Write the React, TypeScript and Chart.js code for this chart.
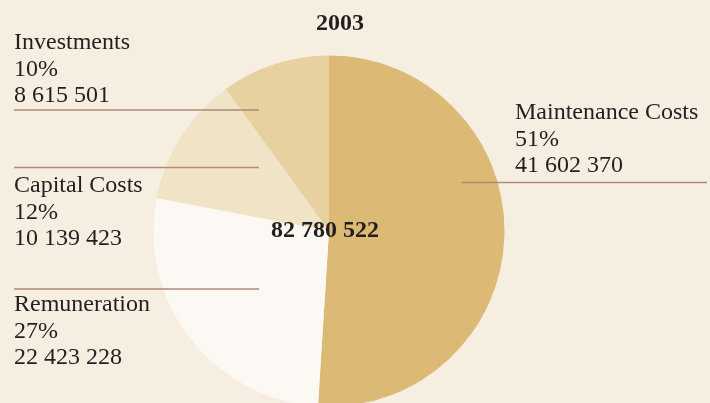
import React, { useEffect, useRef } from "react";
import { Chart, registerables } from "chart.js";

Chart.register(...registerables);

const title = "2003";
const totalLabel = "82 780 522";
const categories = ["Maintenance Costs", "Remuneration", "Capital Costs", "Investments"];
const percents = [51, 27, 12, 10];
const amounts = ["41 602 370", "22 423 228", "10 139 423", "8 615 501"];
const colors = ["#dcb974", "#fcf9f4", "#f1e3c6", "#e8d1a0"];

// label layout: text x, first baseline y, leader line y, line x from, line x to
const labelLayout = [
  { x: 515, y: 119, ly: 182.5, lx1: 462, lx2: 707 },
  { x: 14, y: 311, ly: 289, lx1: 14, lx2: 259 },
  { x: 14, y: 192, ly: 167.5, lx1: 14, lx2: 259 },
  { x: 14, y: 49, ly: 110, lx1: 14, lx2: 259 },
];

const BG = "#f6eee0";
const FONT = "'Liberation Serif', 'Times New Roman', serif";

export default function App() {
  const ref = useRef<HTMLCanvasElement>(null);
  useEffect(() => {
    document.documentElement.style.overflow = "hidden";
    document.body.style.margin = "0";
    document.body.style.overflow = "hidden";
    document.body.style.background = BG;
    const canvas = ref.current!;
    const plugin = {
      id: "deco",
      beforeDraw(chart: any) {
        const ctx = chart.ctx;
        ctx.save();
        ctx.fillStyle = BG;
        ctx.fillRect(0, 0, chart.width, chart.height);
        ctx.restore();
      },
      afterDraw(chart: any) {
        const ctx = chart.ctx;
        ctx.save();
        ctx.fillStyle = "#231f20";
        ctx.textBaseline = "alphabetic";
        ctx.font = `bold 24px ${FONT}`;
        ctx.textAlign = "center";
        ctx.fillText(title, 340, 30);
        const meta = chart.getDatasetMeta(0);
        const arc = meta.data[0];
        ctx.fillText(totalLabel, arc.x - 4, arc.y + 6);
        ctx.textAlign = "left";
        ctx.font = `24px ${FONT}`;
        categories.forEach((c, i) => {
          const L = labelLayout[i];
          ctx.fillStyle = "#231f20";
          ctx.fillText(c, L.x, L.y);
          ctx.fillText(`${percents[i]}%`, L.x, L.y + 26.5);
          ctx.fillText(amounts[i], L.x, L.y + 53);
          ctx.strokeStyle = "#ae8a78";
          ctx.lineWidth = 1.5;
          ctx.beginPath();
          ctx.moveTo(L.lx1, L.ly);
          ctx.lineTo(L.lx2, L.ly);
          ctx.stroke();
        });
        ctx.restore();
      },
    };
    const chart = new Chart(canvas, {
      type: "pie",
      data: {
        labels: categories,
        datasets: [
          {
            data: percents,
            backgroundColor: colors,
            borderWidth: 0,
          },
        ],
      },
      options: {
        animation: false,
        responsive: false,
        layout: { padding: { left: 153.5, right: 205.5, top: 55.5, bottom: 3.5 } },
        plugins: { legend: { display: false }, tooltip: { enabled: false } },
      },
      plugins: [plugin],
    });
    return () => chart.destroy();
  }, []);
  return (
    <div style={{ position: "absolute", left: 0, top: 0, width: 710, height: 410, overflow: "hidden" }}>
      <canvas ref={ref} width={710} height={410} style={{ width: 710, height: 410, display: "block" }} />
    </div>
  );
}
